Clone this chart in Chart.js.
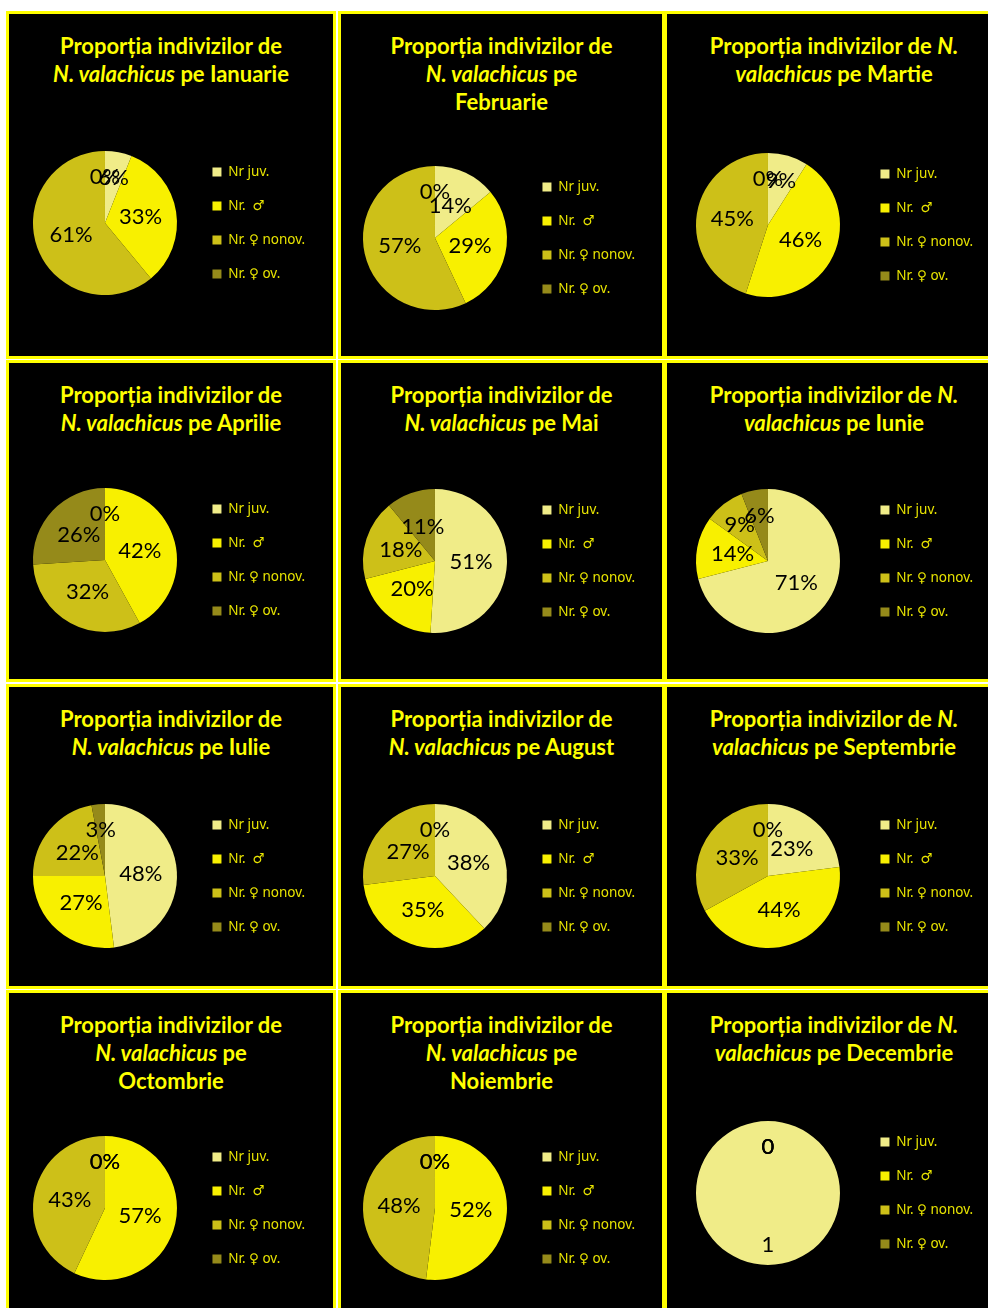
<!DOCTYPE html>
<html>
<head>
<meta charset="utf-8">
<script src="https://cdn.jsdelivr.net/npm/chart.js@4.4.0/dist/chart.umd.min.js"></script>
<style>
    body { margin: 0; background: #fff; width: 988px; height: 1308px; overflow: hidden; position: relative; font-family: Lato, 'Open Sans', sans-serif; }
    .panel { position: absolute; background: #000; border: 3px solid #ffff00; box-sizing: border-box; }
    .title { position: absolute; left: 0; right: 0; top: 18px; text-align: center; color: #ffff00; font-weight: bold; font-size: 22px; line-height: 28px; }
    .box { position: absolute; }
</style>
</head>
<body>
<script>
// Categories (legend)
const categories = ['Nr juv.', 'Nr.  \u2642', 'Nr. \u2640 nonov.', 'Nr. \u2640 ov.'];
const months = ['Ianuarie', 'Februarie', 'Martie', 'Aprilie', 'Mai', 'Iunie',
    'Iulie', 'August', 'Septembrie', 'Octombrie', 'Noiembrie', 'Decembrie'];

// Values per month (percent; December is raw counts)
const juv       = [6, 14, 9, 0, 51, 71, 48, 38, 23, 0, 0, 1];
const males     = [33, 29, 46, 42, 20, 14, 27, 35, 44, 57, 52, 0];
const femNonov  = [61, 57, 45, 32, 18, 9, 22, 27, 33, 43, 48, 0];
const femOv     = [0, 0, 0, 26, 11, 6, 3, 0, 0, 0, 0, 0];
const showPercent = [true, true, true, true, true, true, true, true, true, true, true, false];

// Title wrapping: 'a' = two lines, 'b' = three lines, 'c' = "de N." wrap
const titleWrap = ['a', 'b', 'c', 'a', 'a', 'c', 'a', 'a', 'c', 'b', 'b', 'c'];

const sliceColors = ['#f0ec88', '#f8f000', '#cdc018', '#958a1a'];

// Layout
const colX = [6, 338, 664];
const colW = [330, 327, 340];
const rowY = [11, 360, 684, 990];
const rowH = [348, 322, 305, 330];
const pieX = [105, 435, 768];
const pieY = [223, 238, 225, 560, 561, 561, 876, 876, 876, 1208, 1208, 1193];
const areaW = [174, 174, 184];
const boxH = 200;

const legendFamily = "'Noto Sans', 'DejaVu Sans', sans-serif";
const legendSize = 13.5;
const legendPad = 20.5;
const boxSize = 9;

// legend width as Chart.js computes it (padding + box + gap + text + 10)
function legendWidth() {
    const ctx = document.createElement('canvas').getContext('2d');
    ctx.font = legendSize + 'px ' + legendFamily;
    let w = 0;
    categories.forEach(c => { w = Math.max(w, ctx.measureText(c).width); });
    return legendPad + boxSize + legendSize / 2 + w + 10;
}

function titleHtml(month, wrap) {
    if (wrap === 'a') return 'Proporția indivizilor de<br><i>N. valachicus</i> pe ' + month;
    if (wrap === 'b') return 'Proporția indivizilor de<br><i>N. valachicus</i> pe<br>' + month;
    return 'Proporția indivizilor de <i>N.</i><br><i>valachicus</i> pe ' + month;
}

// Draw labels inside slices
const sliceLabels = {
    id: 'sliceLabels',
    afterDatasetsDraw(chart, args, opts) {
        const ctx = chart.ctx;
        const meta = chart.getDatasetMeta(0);
        const values = chart.data.datasets[0].data;
        const total = values.reduce((a, b) => a + b, 0);
        ctx.save();
        ctx.font = '22px Lato';
        ctx.fillStyle = '#000';
        ctx.textAlign = 'center';
        ctx.textBaseline = 'middle';
        meta.data.forEach((arc, i) => {
            const p = arc.getProps(['x', 'y', 'startAngle', 'endAngle', 'outerRadius'], true);
            const share = values[i] / total;
            const k = share >= 0.99 ? 0.72 : (share < 0.1 ? 0.64 : 0.5);
            const mid = (p.startAngle + p.endAngle) / 2;
            const r = p.outerRadius * k;
            const text = opts.percent ? Math.round(share * 100) + '%' : String(values[i]);
            ctx.fillText(text, p.x + Math.cos(mid) * r, p.y + Math.sin(mid) * r);
        });
        ctx.restore();
    }
};

const legendW = legendWidth();

months.forEach((month, i) => {
    const col = i % 3;
    const row = Math.floor(i / 3);

    const panel = document.createElement('div');
    panel.className = 'panel';
    panel.style.left = colX[col] + 'px';
    panel.style.top = rowY[row] + 'px';
    panel.style.width = colW[col] + 'px';
    panel.style.height = rowH[row] + 'px';
    const title = document.createElement('div');
    title.className = 'title';
    title.innerHTML = titleHtml(month, titleWrap[i]);
    panel.appendChild(title);
    document.body.appendChild(panel);

    const box = document.createElement('div');
    box.className = 'box';
    box.style.left = (pieX[col] - areaW[col] / 2) + 'px';
    box.style.top = (pieY[i] - boxH / 2) + 'px';
    box.style.width = (areaW[col] + legendW) + 'px';
    box.style.height = boxH + 'px';
    const canvas = document.createElement('canvas');
    box.appendChild(canvas);
    document.body.appendChild(box);

    new Chart(canvas.getContext('2d'), {
        type: 'pie',
        data: {
            labels: categories,
            datasets: [{
                data: [juv[i], males[i], femNonov[i], femOv[i]],
                backgroundColor: sliceColors,
                borderWidth: 0,
                radius: 72
            }]
        },
        options: {
            responsive: true,
            maintainAspectRatio: false,
            animation: false,
            events: [],
            layout: { padding: 0 },
            plugins: {
                legend: {
                    position: 'right',
                    labels: {
                        color: '#e8e400',
                        font: { family: legendFamily, size: legendSize },
                        boxWidth: boxSize,
                        boxHeight: boxSize,
                        padding: legendPad
                    }
                },
                tooltip: { enabled: false },
                sliceLabels: { percent: showPercent[i] }
            }
        },
        plugins: [sliceLabels]
    });
});
</script>
</body>
</html>
